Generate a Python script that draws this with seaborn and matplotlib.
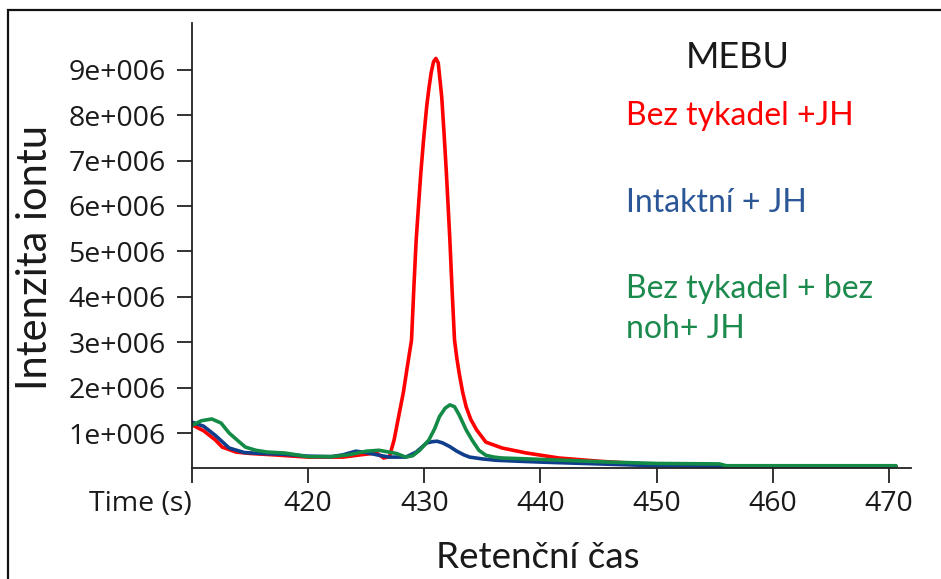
import numpy as np
import pandas as pd
import matplotlib
matplotlib.use("Agg")
import matplotlib.pyplot as plt
import seaborn as sns
from matplotlib.patches import Rectangle

sns.set_theme(style="white")
plt.rcParams["font.family"] = ["Lato", "DejaVu Sans"]

# Retention time (s) and ion intensity (in millions of counts) per treatment
time_no_antennae = [410, 411, 412, 412.6, 413.8, 415, 417, 420, 423, 424.5, 425.9, 426.5,
                    427.0, 427.4, 428.2, 428.5, 428.9, 429.1, 429.3, 429.5, 429.7, 429.95,
                    430.2, 430.4, 430.6, 430.8, 431.0, 431.2, 431.5, 431.7, 431.9, 432.05,
                    432.2, 432.4, 432.6, 432.8, 433.0, 433.3, 433.6, 434.0, 434.5, 435.3,
                    436.7, 438.8, 441.6, 445, 450, 455, 460, 470.6]
int_no_antennae = [1.18, 1.05, 0.85, 0.69, 0.58, 0.55, 0.52, 0.47, 0.47, 0.52, 0.56, 0.45,
                   0.48, 0.85, 1.9, 2.4, 3.05, 4.2, 5.25, 6.0, 6.73, 7.5,
                   8.18, 8.6, 8.95, 9.18, 9.25, 9.15, 8.4, 7.6, 6.73, 6.0,
                   5.25, 4.1, 3.05, 2.65, 2.32, 1.9, 1.58, 1.3, 1.07, 0.80,
                   0.67, 0.56, 0.45, 0.38, 0.30, 0.28, 0.27, 0.27]

time_intact = [410, 411, 412, 413.2, 414.5, 416, 418, 420, 422, 423, 424.1, 425, 426.1,
               427, 428.4, 429.3, 430.2, 430.7, 431.1, 431.6, 432.2, 432.8, 433.4, 433.9,
               435, 436.2, 438, 440, 445, 450, 455, 460, 470.6]
int_intact = [1.24, 1.15, 0.95, 0.67, 0.57, 0.55, 0.53, 0.49, 0.48, 0.52, 0.60, 0.57, 0.51,
              0.47, 0.47, 0.58, 0.78, 0.81, 0.82, 0.78, 0.70, 0.60, 0.52, 0.47,
              0.43, 0.40, 0.38, 0.36, 0.32, 0.28, 0.27, 0.27, 0.27]

time_no_antennae_legs = [410, 410.8, 411.7, 412.5, 413.2, 414, 414.6, 415.5, 416.5, 418, 420,
                         422, 423.5, 425, 426.1, 427.6, 428.4, 429.0, 429.6, 430.4, 430.9,
                         431.3, 431.8, 432.2, 432.6, 433.0, 433.6, 434.1, 434.7, 435.3,
                         436.0, 436.7, 440, 446, 450, 455.4, 456, 470.6]
int_no_antennae_legs = [1.17, 1.27, 1.31, 1.22, 1.0, 0.82, 0.69, 0.62, 0.58, 0.56, 0.48,
                        0.48, 0.52, 0.60, 0.62, 0.55, 0.47, 0.50, 0.62, 0.85, 1.1,
                        1.36, 1.55, 1.62, 1.58, 1.40, 1.07, 0.85, 0.62, 0.51,
                        0.47, 0.45, 0.42, 0.36, 0.33, 0.32, 0.28, 0.28]

series_names = ["Bez tykadel +JH", "Intaktní + JH", "Bez tykadel + bez\nnoh+ JH"]
line_colors = ["#ff0000", "#0f3f8c", "#138a45"]
text_colors = ["#ff0000", "#2b5797", "#1b8a4c"]

x_ticks = [410, 420, 430, 440, 450, 460, 470]
x_tick_labels = ["Time (s)", "420", "430", "440", "450", "460", "470"]
y_ticks = [1e6, 2e6, 3e6, 4e6, 5e6, 6e6, 7e6, 8e6, 9e6]
y_tick_labels = ["1e+006", "2e+006", "3e+006", "4e+006", "5e+006",
                 "6e+006", "7e+006", "8e+006", "9e+006"]

frames = []
for name, t, v in zip(series_names,
                      [time_no_antennae, time_intact, time_no_antennae_legs],
                      [int_no_antennae, int_intact, int_no_antennae_legs]):
    frames.append(pd.DataFrame({"time": t,
                                "intensity": np.array(v) * 1e6,
                                "series": name}))
df = pd.concat(frames, ignore_index=True)

W, H = 941, 579
fig = plt.figure(figsize=(W / 100, H / 100), dpi=100)
fig.patch.set_facecolor("white")


def fx(px):
    return px / W


def fy(py):
    return 1 - py / H


ax = fig.add_axes([fx(192), fy(468), fx(911) - fx(192), fy(23) - fy(468)])
ax.set_facecolor("white")

sns.lineplot(data=df, x="time", y="intensity", hue="series",
             hue_order=series_names, palette=line_colors,
             estimator=None, sort=False, legend=False,
             linewidth=2.6, ax=ax)

ax.set_xlim(410, 471.9)
ax.set_ylim(0.23e6, 10.03e6)

ax.set_xticks(x_ticks)
ax.set_xticklabels(x_tick_labels)
ax.set_yticks(y_ticks)
ax.set_yticklabels(y_tick_labels)
ax.get_xticklabels()[0].set_ha("right")

for lab in ax.get_xticklabels() + ax.get_yticklabels():
    lab.set_fontfamily(["Open Sans", "DejaVu Sans"])
    lab.set_fontsize(20.5)
    lab.set_color("#1a1a1a")

ax.tick_params(axis="both", direction="out", length=11, width=1.3,
               color="#222222", bottom=True, left=True)
ax.tick_params(axis="x", pad=5)
ax.tick_params(axis="y", pad=8)

for side in ["top", "right"]:
    ax.spines[side].set_visible(False)
for side in ["left", "bottom"]:
    ax.spines[side].set_color("#222222")
    ax.spines[side].set_linewidth(1.3)

ax.set_xlabel("")
ax.set_ylabel("")

fig.text(fx(538), fy(568), "Retenční čas", fontsize=26.5, ha="center",
         va="baseline", color="#1a1a1a")
fig.text(fx(54), fy(258), "Intenzita iontu", fontsize=30, rotation=90,
         ha="right", va="center", color="#1a1a1a")

fig.text(fx(686), fy(68), "MEBU", fontsize=26, ha="left", va="baseline",
         color="#1a1a1a")
fig.text(fx(626), fy(125), series_names[0], fontsize=23, ha="left",
         va="baseline", color=text_colors[0])
fig.text(fx(626), fy(212), series_names[1], fontsize=23, ha="left",
         va="baseline", color=text_colors[1])
fig.text(fx(626), fy(298), "Bez tykadel + bez", fontsize=23, ha="left",
         va="baseline", color=text_colors[2])
fig.text(fx(626), fy(338), "noh+ JH", fontsize=23, ha="left",
         va="baseline", color=text_colors[2])

# outer frame around the figure
fig.patches.append(Rectangle((fx(8), -0.1), 1.2, fy(10) + 0.1,
                             transform=fig.transFigure, fill=False,
                             edgecolor="#111111", linewidth=1.6))

fig.savefig("out.png", dpi=100, facecolor="white")
